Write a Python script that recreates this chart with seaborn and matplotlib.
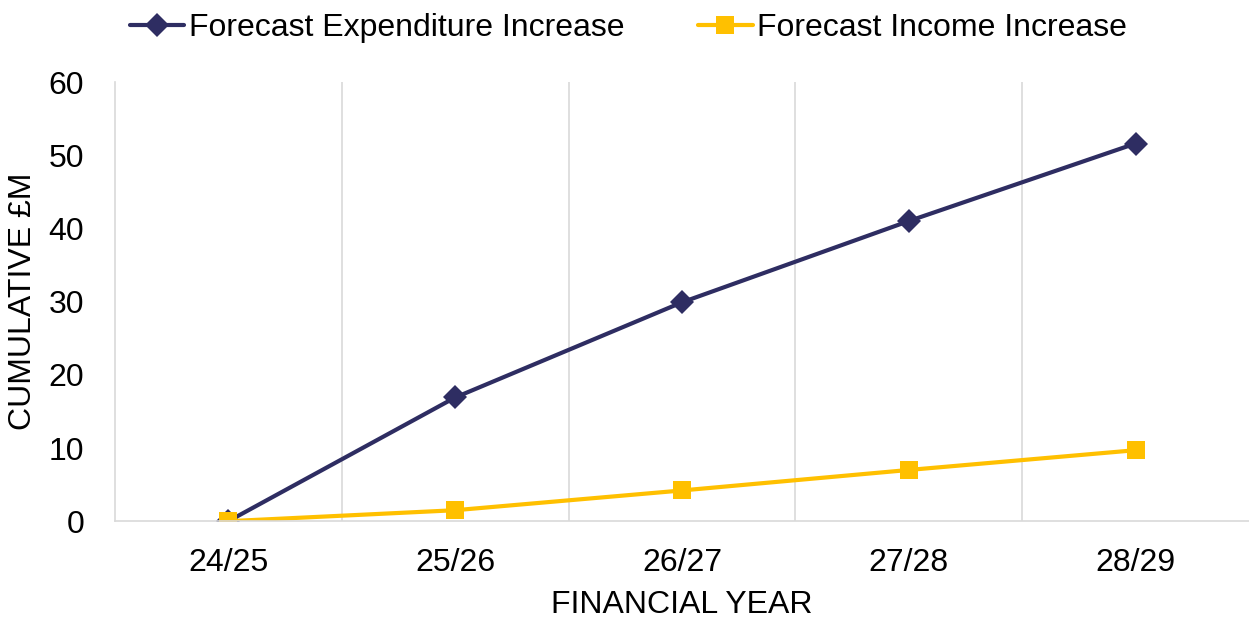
import matplotlib
matplotlib.use("Agg")
import matplotlib.pyplot as plt
import seaborn as sns
import pandas as pd

years = ["24/25", "25/26", "26/27", "27/28", "28/29"]
expenditure = [0.0, 16.9, 29.9, 41.0, 51.6]
income = [0.0, 1.5, 4.2, 7.0, 9.7]
series_names = ["Forecast Expenditure Increase", "Forecast Income Increase"]
y_ticks = [0, 10, 20, 30, 40, 50, 60]

sns.set_style("white")
plt.rcParams['font.family'] = ['Liberation Sans', 'DejaVu Sans']
plt.rcParams['text.color'] = 'black'
plt.rcParams['xtick.color'] = 'black'
plt.rcParams['ytick.color'] = 'black'
plt.rcParams['axes.labelcolor'] = 'black'

navy = "#2E2D62"
gold = "#FFC000"

df = pd.DataFrame({
    "year": years * 2,
    "x": list(range(len(years))) * 2,
    "value": expenditure + income,
    "series": [series_names[0]] * len(years) + [series_names[1]] * len(years),
})

fig = plt.figure(figsize=(12.49, 6.19), dpi=100)
ax = fig.add_axes([0.092, 0.158, 0.908, 0.7095])

sns.lineplot(data=df[df.series == series_names[0]], x="x", y="value", ax=ax,
             color=navy, linewidth=3, marker="D", markersize=12,
             markeredgewidth=0, label=series_names[0], sort=False)
sns.lineplot(data=df[df.series == series_names[1]], x="x", y="value", ax=ax,
             color=gold, linewidth=3, marker="s", markersize=13,
             markeredgewidth=0, label=series_names[1], sort=False)

ax.set_xlim(-0.5, len(years) - 0.5)
ax.set_ylim(0, 60)
ax.set_yticks(y_ticks)
ax.set_xticks(range(len(years)))
ax.set_xticklabels(years)
ax.set_xticks([i + 0.5 for i in range(len(years) - 1)], minor=True)
ax.grid(False)
ax.grid(True, axis="x", which="minor", color="#D9D9D9", linewidth=1.2)
ax.tick_params(axis="x", which="both", length=0, labelsize=23, pad=19)
ax.tick_params(axis="y", length=0, labelsize=23, pad=22)

for s in ["top", "right"]:
    ax.spines[s].set_visible(False)
for s in ["left", "bottom"]:
    ax.spines[s].set_color("#D9D9D9")
    ax.spines[s].set_linewidth(1.2)

ax.set_xlabel("FINANCIAL YEAR", fontsize=23, labelpad=9)
ax.set_ylabel("CUMULATIVE £M", fontsize=23, labelpad=8)

leg = ax.legend(loc="upper center", bbox_to_anchor=(0.453, 1.222), ncol=2,
                frameon=False, fontsize=23, handlelength=1.7, handletextpad=0.15,
                columnspacing=2.3)

fig.savefig("out.png", dpi=100)
